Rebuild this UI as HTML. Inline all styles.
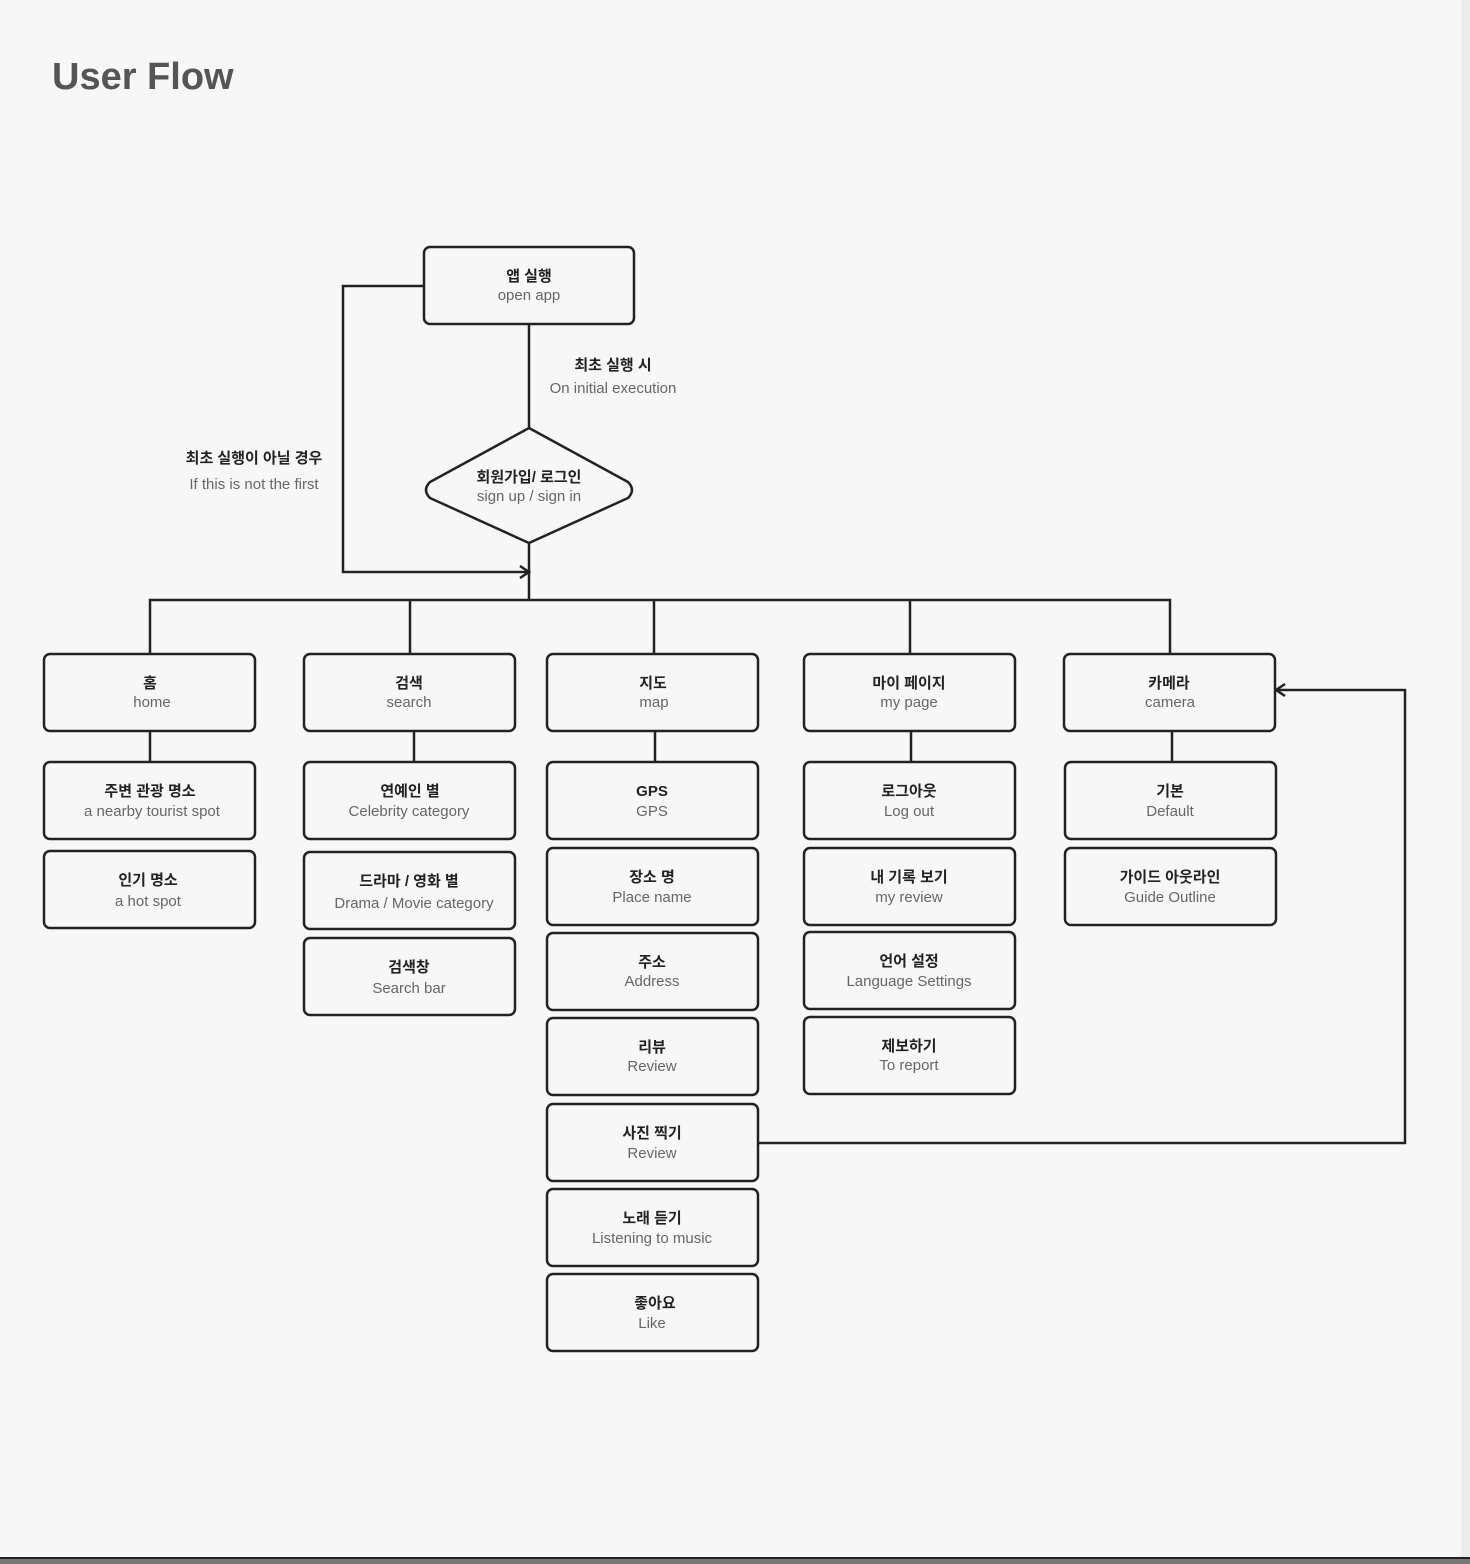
<!DOCTYPE html>
<html><head><meta charset="utf-8"><style>
html,body{margin:0;padding:0;width:1470px;height:1564px;overflow:hidden;background:#f7f7f7;}
svg{display:block;font-family:"Liberation Sans","Noto Sans CJK KR",sans-serif;}
.k{font-size:15px;font-weight:bold;fill:#222;text-anchor:middle;}
.e{font-size:15px;fill:#666;text-anchor:middle;}
.b{fill:#f7f7f7;stroke:#222;stroke-width:2.5;}
.l{fill:none;stroke:#222;stroke-width:2.5;}
</style></head><body>
<svg width="1470" height="1564" viewBox="0 0 1470 1564">
<rect x="1461" y="0" width="9" height="1564" fill="#ececec"/>
<rect x="0" y="1557" width="1470" height="2" fill="#222"/>
<rect x="0" y="1559" width="1470" height="5" fill="#777"/>
<text x="52" y="89" font-size="38" font-weight="bold" fill="#555">User Flow</text>

<!-- connectors -->
<path class="l" d="M529 324V428M529 543V600M150 653V600H1170V653M410 600V653M654 600V653M910 600V653"/>
<path class="l" d="M424 286H343V572H529M520 566L529 572L520 578"/>
<path class="l" d="M150 731V762M414 731V762M655 731V762M911 731V762M1172 731V762"/>
<path class="l" d="M758 1143H1405V690H1276M1285 684L1276 690L1285 696"/>

<rect class="b" x="424" y="247" width="210" height="77" rx="6"/>
<text class="k" x="529" y="281">앱 실행</text><text class="e" x="529" y="300">open app</text>
<text class="k" x="613" y="370">최초 실행 시</text><text class="e" x="613" y="393">On initial execution</text>
<text class="k" x="254" y="463">최초 실행이 아닐 경우</text><text class="e" x="254" y="489">If this is not the first</text>
<path class="b" d="M529 428L628 482Q636 490 628 498L529 543L430 498Q422 490 430 482Z"/>
<text class="k" x="529" y="482">회원가입/ 로그인</text><text class="e" x="529" y="501">sign up / sign in</text>

<g id="boxes">
<rect class="b" x="44" y="654" width="211" height="77" rx="6"/><text class="k" x="150" y="688">홈</text><text class="e" x="152" y="707">home</text>
<rect class="b" x="304" y="654" width="211" height="77" rx="6"/><text class="k" x="409" y="688">검색</text><text class="e" x="409" y="707">search</text>
<rect class="b" x="547" y="654" width="211" height="77" rx="6"/><text class="k" x="653" y="688">지도</text><text class="e" x="654" y="707">map</text>
<rect class="b" x="804" y="654" width="211" height="77" rx="6"/><text class="k" x="909" y="688">마이 페이지</text><text class="e" x="909" y="707">my page</text>
<rect class="b" x="1064" y="654" width="211" height="77" rx="6"/><text class="k" x="1169" y="688">카메라</text><text class="e" x="1170" y="707">camera</text>

<rect class="b" x="44" y="762" width="211" height="77" rx="6"/><text class="k" x="150" y="796">주변 관광 명소</text><text class="e" x="152" y="816">a nearby tourist spot</text>
<rect class="b" x="44" y="851" width="211" height="77" rx="6"/><text class="k" x="148" y="885">인기 명소</text><text class="e" x="148" y="906">a hot spot</text>

<rect class="b" x="304" y="762" width="211" height="77" rx="6"/><text class="k" x="410" y="796">연예인 별</text><text class="e" x="409" y="816">Celebrity category</text>
<rect class="b" x="304" y="852" width="211" height="77" rx="6"/><text class="k" x="409" y="886">드라마 / 영화 별</text><text class="e" x="414" y="908">Drama / Movie category</text>
<rect class="b" x="304" y="938" width="211" height="77" rx="6"/><text class="k" x="409" y="972">검색창</text><text class="e" x="409" y="993">Search bar</text>

<rect class="b" x="547" y="762" width="211" height="77" rx="6"/><text class="k" x="652" y="796">GPS</text><text class="e" x="652" y="816">GPS</text>
<rect class="b" x="547" y="848" width="211" height="77" rx="6"/><text class="k" x="652" y="882">장소 명</text><text class="e" x="652" y="902">Place name</text>
<rect class="b" x="547" y="933" width="211" height="77" rx="6"/><text class="k" x="652" y="967">주소</text><text class="e" x="652" y="986">Address</text>
<rect class="b" x="547" y="1018" width="211" height="77" rx="6"/><text class="k" x="652" y="1052">리뷰</text><text class="e" x="652" y="1071">Review</text>
<rect class="b" x="547" y="1104" width="211" height="77" rx="6"/><text class="k" x="652" y="1138">사진 찍기</text><text class="e" x="652" y="1158">Review</text>
<rect class="b" x="547" y="1189" width="211" height="77" rx="6"/><text class="k" x="652" y="1223">노래 듣기</text><text class="e" x="652" y="1243">Listening to music</text>
<rect class="b" x="547" y="1274" width="211" height="77" rx="6"/><text class="k" x="655" y="1308">좋아요</text><text class="e" x="652" y="1328">Like</text>

<rect class="b" x="804" y="762" width="211" height="77" rx="6"/><text class="k" x="909" y="796">로그아웃</text><text class="e" x="909" y="816">Log out</text>
<rect class="b" x="804" y="848" width="211" height="77" rx="6"/><text class="k" x="909" y="882">내 기록 보기</text><text class="e" x="909" y="902">my review</text>
<rect class="b" x="804" y="932" width="211" height="77" rx="6"/><text class="k" x="909" y="966">언어 설정</text><text class="e" x="909" y="986">Language Settings</text>
<rect class="b" x="804" y="1017" width="211" height="77" rx="6"/><text class="k" x="909" y="1051">제보하기</text><text class="e" x="909" y="1070">To report</text>

<rect class="b" x="1065" y="762" width="211" height="77" rx="6"/><text class="k" x="1170" y="796">기본</text><text class="e" x="1170" y="816">Default</text>
<rect class="b" x="1065" y="848" width="211" height="77" rx="6"/><text class="k" x="1170" y="882">가이드 아웃라인</text><text class="e" x="1170" y="902">Guide Outline</text>
</g>
</svg>
</body></html>
